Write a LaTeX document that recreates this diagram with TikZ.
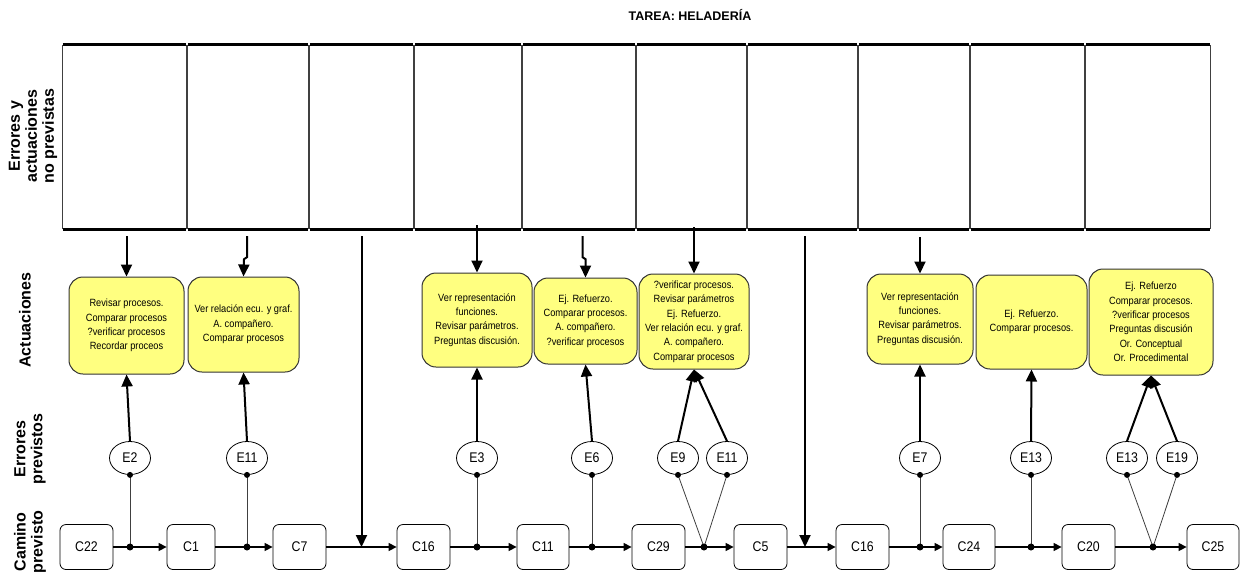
\documentclass[tikz,border=0pt]{standalone}
\usepackage{fontspec}
\setmainfont{Liberation Sans}
\newfontfamily\narrowfont[FakeStretch=0.88]{Liberation Sans}
\usepackage{tikz}
\usetikzlibrary{arrows.meta,shapes.geometric,positioning,calc}
\usepackage{xcolor}
\definecolor{actionyellow}{RGB}{255,255,128}

\begin{document}
\begin{tikzpicture}[x=1pt,y=-1pt,
  rowlabel/.style={rotate=90,align=center,font=\fontsize{16}{17}\selectfont\bfseries},
  unforeseen/.style={minimum height=184,inner sep=0},
  sideline/.style={line width=1.2pt,black!75},
  capline/.style={line width=3pt},
  action/.style={draw=black!80,line width=1pt,fill=actionyellow,rounded corners=14pt,
    align=center,inner sep=0,font=\narrowfont\fontsize{10.5}{14.4}\selectfont},
  fault/.style={draw,line width=0.8pt,ellipse,minimum width=41,minimum height=33,inner sep=0,
    font=\narrowfont\fontsize{14}{14}\selectfont},
  stage/.style={draw,line width=0.8pt,rounded corners=6pt,minimum width=53,minimum height=45,
    inner sep=0,font=\narrowfont\fontsize{14}{14}\selectfont},
  downarr/.style={line width=2pt,-{Triangle[length=12pt,width=11pt]}},
  uparr/.style={line width=2pt,-{Triangle[length=12pt,width=11pt]}},
  patharr/.style={line width=1.3pt,-{Triangle[length=8pt,width=8pt]}},
  link/.style={line width=0.8pt,black!75}]
  \useasboundingbox (0,0) rectangle (1249,581);

  % title and row labels
  \node[font=\fontsize{12.5}{14}\selectfont\bfseries] (title) at (690,15) {TAREA: HELADERÍA};
  \node[rowlabel] (lunf) at (33,136) {Errores y\\actuaciones\\no previstas};
  \node[rowlabel] (lact) at (25,320) {Actuaciones};
  \node[rowlabel] (lerr) at (30,449) {Errores\\previstos};
  \node[rowlabel] (lpath) at (30,542) {Camino\\previsto};

  % unforeseen boxes
  \foreach \i/\xa/\xb in {1/63/186, 2/188/308, 3/310/413, 4/415/521, 5/523/635,
                          6/637/746, 7/748/857, 8/859/969, 9/971/1084, 10/1086/1210} {
    \node[unforeseen, minimum width=\xb-\xa] (u\i) at ({(\xa+\xb)/2},137) {};
    \draw[sideline] (u\i.north west) -- (u\i.south west) (u\i.north east) -- (u\i.south east);
    \draw[capline] (u\i.north west) -- (u\i.north east) (u\i.south west) -- (u\i.south east);
  }

  % actions
  \node[action, minimum width=115, minimum height=97] (a1) at (126.5,325.5)
    {Revisar procesos.\\Comparar procesos\\?verificar procesos\\Recordar proceos};
  \node[action, minimum width=111, minimum height=95] (a2) at (243.5,324.5)
    {Ver relación ecu. y graf.\\A. compañero.\\Comparar procesos};
  \node[action, minimum width=110, minimum height=94] (a3) at (477,320)
    {Ver representación\\funciones.\\Revisar parámetros.\\Preguntas discusión.};
  \node[action, minimum width=103, minimum height=86] (a4) at (585.5,321)
    {Ej. Refuerzo.\\Comparar procesos.\\A. compañero.\\?verificar procesos};
  \node[action, minimum width=110, minimum height=95] (a5) at (694,321.5)
    {?verificar procesos.\\Revisar parámetros\\Ej. Refuerzo.\\Ver relación ecu. y graf.\\A. compañero.\\Comparar procesos};
  \node[action, minimum width=106, minimum height=90] (a6) at (920,319)
    {Ver representación\\funciones.\\Revisar parámetros.\\Preguntas discusión.};
  \node[action, minimum width=111, minimum height=94] (a7) at (1031.5,322)
    {Ej. Refuerzo.\\Comparar procesos.};
  \node[action, minimum width=124, minimum height=106] (a8) at (1151,322)
    {Ej. Refuerzo\\Comparar procesos.\\?verificar procesos\\Preguntas discusión\\Or. Conceptual\\Or. Procedimental};

  % foreseen errors
  \foreach \n/\x/\t in {e2/130/E2, e11/247/E11, e3/477/E3, e6/592/E6, e9/678/E9,
                        e11b/727/E11, e7/920/E7, e13/1031/E13, e13b/1127/E13, e19/1177/E19}
    \node[fault] (\n) at (\x,458) {\t};

  % foreseen path
  \node[stage] (c22) at (86.5,547) {C22};
  \node[stage, minimum width=48] (c1) at (191,547) {C1};
  \node[stage] (c7) at (299.5,547) {C7};
  \node[stage] (c16) at (423.5,547) {C16};
  \node[stage, minimum width=52] (c11) at (543,547) {C11};
  \node[stage] (c29) at (658.5,547) {C29};
  \node[stage] (c5) at (760.5,547) {C5};
  \node[stage] (c16b) at (862.5,547) {C16};
  \node[stage, minimum width=52] (c24) at (969,547) {C24};
  \node[stage] (c20) at (1088.5,547) {C20};
  \node[stage, minimum width=52] (c25) at (1213,547) {C25};

  \coordinate (j1) at (e2.south |- c22.east);
  \coordinate (j2) at (e11.south |- c1.east);
  \coordinate (j3) at (e3.south |- c16.east);
  \coordinate (j4) at (e6.south |- c11.east);
  \coordinate (j5) at (704,547);
  \coordinate (j6) at (e7.south |- c16b.east);
  \coordinate (j7) at (e13.south |- c24.east);
  \coordinate (j8) at (1153,547);
  \coordinate (m1) at (u3.south |- c7.east);
  \coordinate (m2) at (805,547);

  \foreach \a/\b in {c22/c1, c1/c7, c7/c16, c16/c11, c11/c29, c29/c5, c5/c16b,
                     c16b/c24, c24/c20, c20/c25}
    \draw[patharr] (\a) -- (\b);

  % errors to path
  \foreach \e/\j in {e2/j1, e11/j2, e3/j3, e6/j4, e9/j5, e11b/j5, e7/j6, e13/j7, e13b/j8, e19/j8} {
    \draw[link] (\e.south) -- (\j);
    \fill (\e.south) circle (3);
  }
  \foreach \j in {j1,j2,j3,j4,j5,j6,j7,j8}
    \fill (\j) circle (3.5);

  % errors to actions
  \foreach \e/\a in {e2/a1, e11/a2, e3/a3, e6/a4, e9/a5, e11b/a5, e7/a6, e13/a7, e13b/a8, e19/a8}
    \draw[uparr] (\e.north) -- (\a.south);

  % unforeseen to actions
  \draw[downarr] ($(u1.south -| a1.north)+(0,7)$) -- (a1.north);
  \draw[downarr] ($(u2.south)+(-1,7)$) -- ++(0,21) -- ++(-3,2) -- (a2.north);
  \draw[downarr] ($(u3.south)+(0,7)$) -- (m1);
  \draw[downarr] ($(u4.south -| a3.north)+(0,-4)$) -- (a3.north);
  \draw[downarr] ($(u5.south -| a4.north)+(-3,7)$) -- ++(0,21) -- ++(3,2) -- (a4.north);
  \draw[downarr] ($(u6.south -| a5.north)+(0,-2)$) -- (a5.north);
  \draw[downarr] ($(m2 |- u7.south)+(0,7)$) -- (m2);
  \draw[downarr] ($(u8.south -| a6.north)+(0,8)$) -- (a6.north);
\end{tikzpicture}
\end{document}
